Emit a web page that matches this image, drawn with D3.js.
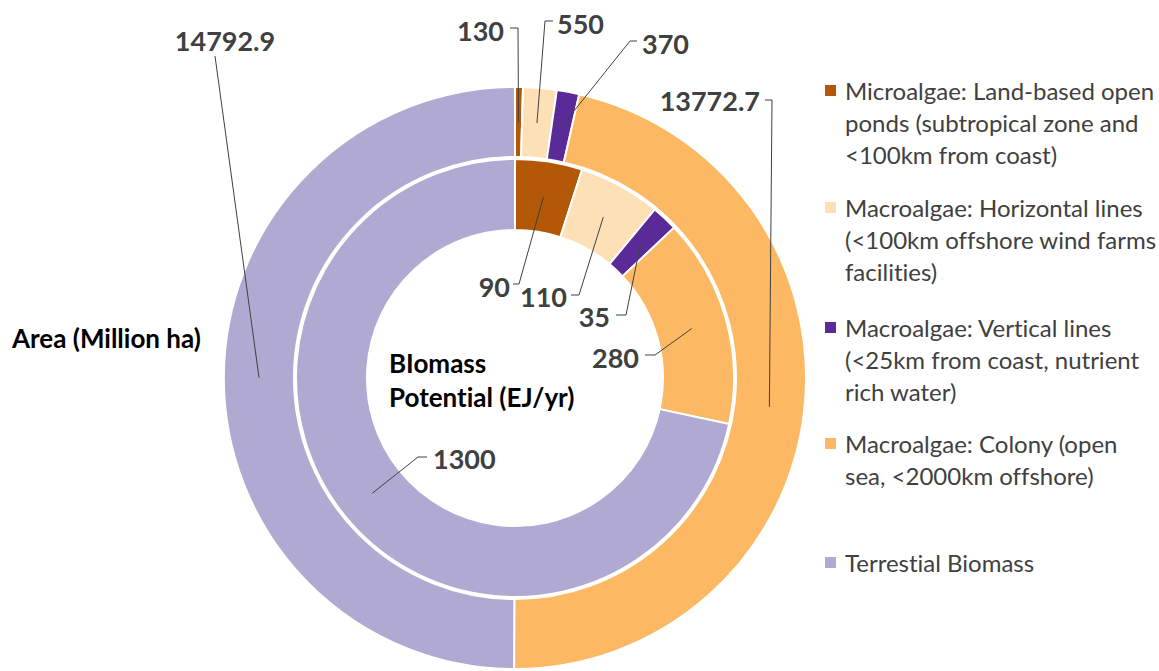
<html lang="en">
<head>
<meta charset="UTF-8">
<title>Biomass potential donut</title>
<script src="https://d3js.org/d3.v7.min.js"></script>
<style>
  body, html { margin: 0; padding: 0; background: #fff; }
  svg { display: block; font-family: Lato, "Open Sans", sans-serif; font-variant-ligatures: none; }
  .val { font-weight: bold; fill: #404040; font-size: 27px; }
  .lead { fill: none; stroke: #404040; stroke-width: 1; }
  .legend text { fill: #404040; font-size: 24px; }
  .title { font-weight: bold; fill: #000; font-size: 26px; }
</style>
</head>
<body>
<svg id="chart" width="1159" height="671"></svg>
<script>
  // categories (legend order = slice order)
  const categories = [
    ["Microalgae: Land-based open", "ponds (subtropical zone and", "<100km from coast)"],
    ["Macroalgae: Horizontal lines", "(<100km offshore wind farms", "facilities)"],
    ["Macroalgae: Vertical lines", "(<25km from coast, nutrient", "rich water)"],
    ["Macroalgae: Colony (open", "sea, <2000km offshore)"],
    ["Terrestial Biomass"]
  ];
  const colors = ["#b35806", "#fde0b6", "#5a2a98", "#fdb863", "#b0a9d1"];

  // outer ring: Area (Million ha)
  const areaValues = [130, 550, 370, 13772.7, 14792.9];
  const areaLabels = ["130", "550", "370", "13772.7", "14792.9"];
  // inner ring: Biomass potential (EJ/yr)
  const biomassValues = [90, 110, 35, 280, 1300];
  const biomassLabels = ["90", "110", "35", "280", "1300"];

  // label placement: text point, anchor, leader start and elbow end x
  const areaLabelPos = [
    { x: 504, y: 30, a: "end",    lx: 510, ly: 28, ex: 518 },
    { x: 557, y: 23, a: "start",  lx: 553, ly: 21, ex: 545 },
    { x: 642, y: 43, a: "start",  lx: 637, ly: 41, ex: 630 },
    { x: 760, y: 100, a: "end",   lx: 765, ly: 100, ex: 772 },
    { x: 225, y: 40, a: "middle", lx: 215, ly: 56, ex: 215 }
  ];
  const biomassLabelPos = [
    { x: 510, y: 286, a: "end",   lx: 513, ly: 284, ex: 519 },
    { x: 567, y: 296, a: "end",   lx: 571, ly: 295, ex: 579 },
    { x: 610, y: 316, a: "end",   lx: 616, ly: 315, ex: 626 },
    { x: 639, y: 357, a: "end",   lx: 645, ly: 355, ex: 655 },
    { x: 433, y: 458, a: "start", lx: 427, ly: 457, ex: 418 }
  ];

  const cx = 515, cy = 378;
  const svg = d3.select("#chart");
  const g = svg.append("g").attr("transform", `translate(${cx},${cy})`);

  const pie = d3.pie().sort(null).value(d => d);

  const outerArc = d3.arc().innerRadius(221).outerRadius(291);
  const innerArc = d3.arc().innerRadius(148).outerRadius(219);

  function ring(values, arc, labels, pos, cls) {
    const arcs = pie(values);
    g.selectAll("path." + cls)
      .data(arcs)
      .enter().append("path")
      .attr("class", cls)
      .attr("d", arc)
      .attr("fill", (d, i) => colors[i])
      .attr("stroke", "#fff")
      .attr("stroke-width", 2);

    arcs.forEach((d, i) => {
      const c = arc.centroid(d);
      const p = pos[i];
      svg.append("path")
        .attr("class", "lead")
        .attr("d", `M${p.lx},${p.ly}H${p.ex}L${c[0] + cx},${c[1] + cy}`);
      svg.append("text")
        .attr("class", "val")
        .attr("x", p.x)
        .attr("y", p.y)
        .attr("text-anchor", p.a)
        .attr("dominant-baseline", "central")
        .text(labels[i]);
    });
  }

  ring(areaValues, outerArc, areaLabels, areaLabelPos, "outer");
  ring(biomassValues, innerArc, biomassLabels, biomassLabelPos, "inner");

  // ring titles
  svg.append("text").attr("class", "title")
    .attr("x", 12).attr("y", 338).attr("dominant-baseline", "central")
    .text("Area (Million ha)");
  const t2 = svg.append("text").attr("class", "title")
    .attr("x", 389).attr("y", 363).attr("dominant-baseline", "central");
  t2.append("tspan").attr("x", 389).text("BIomass");
  t2.append("tspan").attr("x", 389).attr("dy", 34).text("Potential (EJ/yr)");

  // legend
  const legendY = [90, 207, 327, 443, 562];
  const legend = svg.append("g").attr("class", "legend");
  categories.forEach((lines, i) => {
    legend.append("rect")
      .attr("x", 825).attr("y", legendY[i] - 5)
      .attr("width", 11).attr("height", 11)
      .attr("fill", colors[i]);
    lines.forEach((ln, j) => {
      legend.append("text")
        .attr("x", 845).attr("y", legendY[i] + j * 32)
        .attr("dominant-baseline", "central")
        .text(ln);
    });
  });
</script>
</body>
</html>
